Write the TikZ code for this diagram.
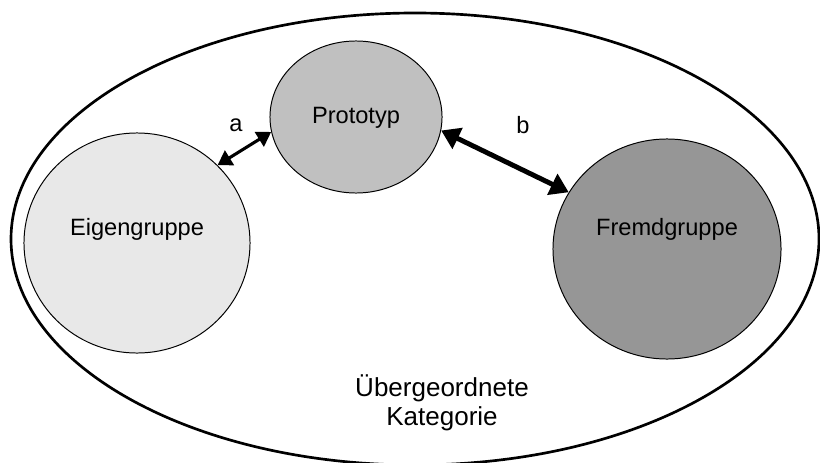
\documentclass[tikz,border=0pt]{standalone}
\usepackage{fontspec}
\setmainfont{Liberation Sans}
\usetikzlibrary{shapes.geometric,arrows.meta}
\definecolor{eigengrau}{HTML}{E8E8E8}
\definecolor{protograu}{HTML}{C0C0C0}
\definecolor{fremdgrau}{HTML}{969696}
\begin{document}
\begin{tikzpicture}[x=0.025cm, y=0.025cm,
    gruppe/.style={ellipse, draw, line width=0.7pt, inner sep=0pt},
    schrift/.style={font=\fontsize{16.8}{21}\selectfont},
    pfeil/.style={<->, >={Triangle[length=10pt, width=12pt]}}]
    \useasboundingbox (0,0) rectangle (820,462);

    % Draw superordinate category
    \draw[line width=1.9pt] (415,223) ellipse [x radius=404, y radius=226];
    \node[font=\fontsize{18.5}{20.6}\selectfont, align=center] (kat) at (442,59) {Übergeordnete\\Kategorie};

    % Draw groups
    \node[gruppe, fill=eigengrau, minimum width=5.65cm, minimum height=5.5cm] (eigen) at (137,219) {};
    \node[schrift] (eigentext) at ([yshift=0.33cm]eigen.center) {Eigengruppe};

    \node[gruppe, fill=protograu, minimum width=4.3cm, minimum height=3.8cm] (proto) at (356,345) {};
    \node[schrift] (prototext) at ([yshift=-0.03cm]proto.center) {Prototyp};

    \node[gruppe, fill=fremdgrau, minimum width=5.7cm, minimum height=5.5cm] (fremd) at (667,213) {};
    \node[schrift] (fremdtext) at ([yshift=0.48cm]fremd.center) {Fremdgruppe};

    % Draw distances
    \draw[pfeil, line width=2.2pt] (eigen.44) -- (proto.190);
    \node[schrift] (a) at (236,337) {a};

    \draw[pfeil, line width=3.5pt, >={Triangle[length=13pt, width=16pt]}] (proto.-9) -- (fremd.150);
    \node[schrift] (b) at (523,337) {b};
\end{tikzpicture}
\end{document}
